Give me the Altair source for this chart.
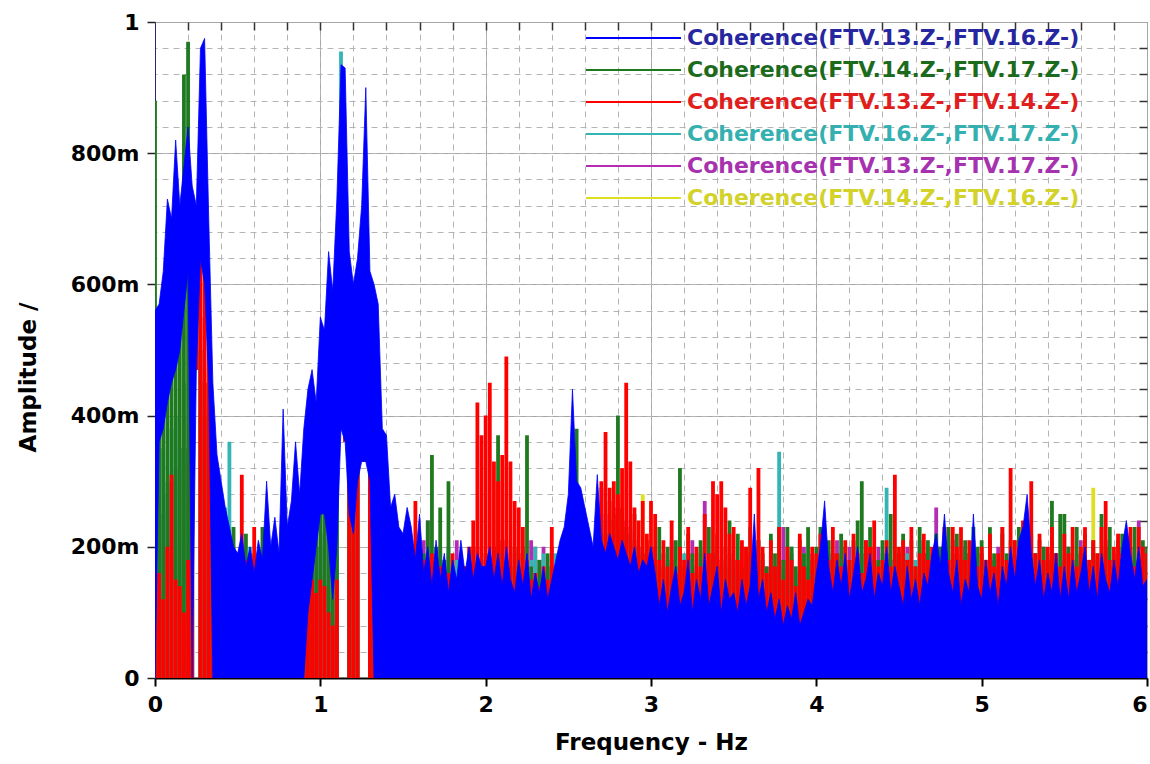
import altair as alt
import pandas as pd

# ---------------- data (coherence, thousandths), one value per 0.025 Hz bin, 0..6 Hz ----------------
FREQ_STEP = 0.025
N_BINS = 241

SERIES = [
    "Coherence(FTV.13.Z-,FTV.16.Z-)",
    "Coherence(FTV.14.Z-,FTV.17.Z-)",
    "Coherence(FTV.13.Z-,FTV.14.Z-)",
    "Coherence(FTV.16.Z-,FTV.17.Z-)",
    "Coherence(FTV.13.Z-,FTV.17.Z-)",
    "Coherence(FTV.14.Z-,FTV.16.Z-)",
]
LINE_COLORS = ["#0000ff", "#1f7a1f", "#ff0000", "#33b5b5", "#b42cb4", "#dede22"]
TEXT_COLORS = ["#2626a0", "#1c6b1c", "#e01e1e", "#35b0b0", "#a632b0", "#d2d22a"]

BLUE = [
    560, 570, 620, 730, 700, 820, 720, 780, 840, 750, 720, 960, 975, 700, 450, 340, 300, 260, 230, 200,
    190, 220, 170, 200, 160, 210, 180, 300, 200, 245, 190, 410, 230, 270, 360, 280, 380, 440, 470, 420,
    550, 530, 650, 590, 730, 935, 930, 650, 600, 640, 720, 900, 620, 600, 570, 380, 370, 260, 280, 230,
    220, 260, 230, 180, 250, 160, 200, 140, 210, 150, 190, 130, 180, 150, 210, 160, 200, 150, 190, 170,
    170, 200, 150, 190, 140, 200, 150, 130, 180, 140, 190, 120, 160, 130, 170, 120, 150, 180, 210, 230,
    280, 440, 300, 290, 260, 230, 200, 310, 210, 190, 220, 200, 180, 210, 190, 170, 200, 160, 180, 170,
    200, 160, 110, 150, 100, 140, 170, 110, 130, 180, 100, 150, 120, 190, 110, 140, 170, 100, 150, 120,
    130, 100, 150, 110, 140, 250, 120, 150, 100, 130, 90, 120, 80, 110, 90, 130, 80, 100, 120, 110,
    160, 200, 270, 170, 130, 180, 140, 190, 120, 160, 200, 130, 150, 190, 120, 160, 140, 200, 130, 170,
    140, 110, 170, 120, 150, 110, 160, 140, 190, 220, 170, 250, 160, 130, 180, 110, 150, 130, 250, 140,
    120, 180, 130, 160, 110, 170, 140, 200, 150, 210, 230, 280, 190, 140, 180, 120, 160, 130, 190, 120,
    170, 120, 180, 130, 160, 200, 130, 170, 120, 190, 150, 130, 180, 140, 200, 240, 190, 150, 200, 140,
    150,
]
GREEN = [
    880, 450, 500, 480, 550, 520, 600, 920, 970, 700, 650, 500, 450, 400, 300, 280, 250, 200, 190, 230,
    180, 160, 220, 150, 190, 170, 230, 160, 180, 200, 150, 210, 190, 170, 220, 250, 300, 280, 310, 290,
    280, 260, 220, 250, 400, 700, 650, 500, 480, 450, 420, 600, 450, 300, 200, 220, 180, 200, 160, 170,
    150, 180, 160, 200, 170, 190, 240, 340, 200, 260, 180, 300, 160, 150, 190, 170, 150, 200, 170, 160,
    190, 170, 200, 370, 210, 180, 170, 200, 190, 160, 370, 170, 150, 180, 160, 190, 170, 150, 180, 200,
    220, 240, 380, 260, 230, 200, 180, 210, 240, 220, 270, 250, 400, 260, 230, 220, 250, 200, 190, 210,
    200, 180, 230, 170, 200, 180, 210, 320, 170, 220, 190, 160, 210, 180, 230, 190, 220, 170, 200, 240,
    180, 220, 170, 200, 230, 180, 210, 190, 170, 220, 190, 230, 180, 230, 200, 170, 210, 190, 230, 180,
    200, 230, 170, 210, 190, 180, 220, 200, 170, 210, 240, 300, 190, 230, 200, 180, 210, 190, 250, 200,
    190, 220, 180, 210, 170, 230, 190, 210, 180, 220, 200, 170, 230, 190, 220, 180, 210, 190, 230, 200,
    210, 180, 230, 190, 170, 220, 190, 210, 180, 230, 200, 180, 220, 190, 210, 200, 180, 270, 190, 250,
    250, 200, 180, 230, 190, 220, 180, 210, 190, 250, 200, 230, 180, 210, 220, 190, 200, 230, 190, 210,
    200,
]
RED = [
    130, 160, 120, 200, 310, 150, 140, 100, 180, 300, 650, 850, 620, 520, 300, 200, 180, 220, 200, 160,
    150, 310, 180, 140, 230, 120, 160, 200, 130, 180, 150, 220, 140, 170, 120, 150, 100, 120, 150, 130,
    150, 140, 100, 80, 150, 600, 550, 600, 560, 520, 450, 700, 400, 150, 120, 200, 160, 140, 230, 180,
    170, 150, 200, 270, 160, 180, 140, 190, 150, 170, 130, 160, 190, 150, 140, 170, 200, 240, 420, 370,
    400, 450, 330, 300, 340, 490, 330, 270, 260, 230, 180, 150, 160, 140, 170, 150, 230, 160, 180, 200,
    170, 160, 190, 150, 170, 200, 180, 220, 300, 375, 290, 300, 280, 320, 450, 330, 260, 240, 270, 220,
    270, 250, 180, 210, 170, 240, 160, 200, 180, 230, 160, 200, 170, 250, 190, 300, 280, 300, 260, 220,
    230, 180, 210, 200, 290, 180, 320, 200, 160, 210, 170, 230, 150, 200, 180, 140, 220, 170, 150, 200,
    190, 220, 170, 180, 230, 190, 170, 210, 180, 220, 190, 160, 210, 200, 240, 170, 180, 210, 170, 310,
    200, 210, 180, 230, 170, 190, 220, 180, 200, 190, 160, 230, 180, 230, 200, 230, 180, 210, 190, 170,
    200, 180, 220, 170, 190, 230, 180, 320, 210, 200, 240, 180, 300, 190, 220, 180, 200, 230, 190, 170,
    220, 190, 230, 170, 200, 230, 180, 210, 190, 230, 270, 180, 200, 220, 190, 210, 230, 170, 230, 200,
    190,
]
CYAN = [
    300, 250, 350, 300, 380, 400, 350, 450, 240, 400, 600, 500, 400, 350, 300, 250, 200, 260, 360, 200,
    180, 150, 170, 200, 160, 140, 190, 170, 150, 180, 160, 140, 170, 190, 150, 180, 200, 170, 190, 160,
    200, 250, 300, 350, 450, 955, 700, 600, 550, 500, 450, 650, 450, 250, 200, 180, 230, 170, 150, 190,
    170, 200, 160, 190, 170, 150, 200, 170, 160, 190, 170, 200, 160, 180, 190, 160, 170, 200, 180, 170,
    180, 170, 200, 160, 190, 170, 160, 200, 170, 190, 160, 180, 200, 160, 190, 170, 160, 190, 170, 200,
    190, 200, 210, 170, 200, 190, 170, 210, 180, 200, 170, 190, 210, 190, 180, 170, 200, 190, 170, 190,
    160, 190, 170, 150, 180, 200, 160, 170, 190, 160, 180, 150, 200, 170, 160, 190, 170, 150, 180, 170,
    160, 180, 150, 170, 190, 160, 180, 170, 150, 190, 170, 345, 160, 180, 200, 170, 160, 190, 170, 160,
    170, 190, 160, 180, 170, 160, 190, 170, 180, 200, 160, 170, 190, 170, 180, 160, 190, 290, 170, 180,
    180, 160, 190, 170, 180, 200, 170, 160, 190, 170, 180, 230, 170, 190, 160, 180, 170, 190, 210, 170,
    180, 170, 190, 160, 180, 230, 170, 190, 160, 180, 200, 170, 160, 190, 180, 170, 190, 160, 180, 190,
    170, 190, 160, 180, 200, 170, 160, 190, 180, 170, 200, 160, 190, 170, 180, 190, 170, 160, 180, 190,
    170,
]
MAGENTA = [
    200, 220, 250, 280, 300, 320, 350, 400, 350, 500, 600, 550, 450, 420, 300, 250, 200, 180, 200, 170,
    160, 180, 150, 170, 140, 190, 160, 150, 180, 170, 140, 160, 150, 170, 180, 160, 150, 170, 160, 180,
    200, 220, 250, 300, 350, 500, 480, 450, 420, 400, 380, 450, 400, 250, 200, 180, 160, 170, 150, 160,
    170, 200, 160, 190, 170, 210, 240, 180, 170, 200, 160, 190, 170, 210, 180, 160, 190, 170, 200, 180,
    190, 170, 200, 180, 160, 210, 190, 170, 160, 200, 180, 210, 200, 180, 200, 170, 200, 180, 170, 200,
    160, 170, 180, 200, 170, 190, 160, 180, 290, 250, 240, 260, 220, 250, 240, 230, 210, 200, 190, 180,
    170, 200, 160, 190, 150, 210, 170, 200, 160, 180, 210, 170, 190, 270, 180, 160, 200, 180, 170, 190,
    180, 160, 200, 170, 190, 160, 210, 180, 170, 190, 160, 200, 230, 170, 190, 160, 180, 200, 170, 190,
    180, 200, 170, 190, 160, 210, 180, 170, 200, 180, 160, 190, 210, 170, 180, 200, 170, 190, 180, 170,
    190, 170, 200, 180, 160, 210, 190, 200, 170, 260, 200, 180, 170, 210, 190, 170, 200, 180, 210, 190,
    190, 170, 210, 180, 200, 170, 160, 190, 210, 180, 170, 200, 180, 190, 170, 200, 180, 210, 190, 170,
    180, 200, 170, 190, 210, 180, 170, 200, 180, 190, 210, 170, 190, 180, 200, 170, 190, 180, 240, 200,
    180,
]
YELLOW = [
    150, 180, 200, 190, 190, 200, 150, 170, 160, 300, 550, 400, 300, 250, 200, 160, 140, 150, 130, 140,
    130, 140, 120, 150, 130, 140, 120, 130, 150, 140, 120, 130, 140, 150, 130, 120, 140, 130, 150, 140,
    150, 160, 180, 200, 250, 450, 420, 400, 380, 360, 350, 400, 350, 200, 150, 140, 130, 150, 140, 130,
    160, 150, 180, 160, 150, 170, 160, 150, 180, 160, 150, 170, 180, 150, 160, 170, 150, 160, 180, 160,
    150, 170, 160, 150, 200, 160, 170, 150, 160, 150, 180, 160, 150, 170, 160, 150, 200, 160, 180, 150,
    160, 180, 150, 160, 180, 190, 160, 180, 190, 160, 180, 200, 190, 170, 190, 160, 180, 190, 280, 170,
    160, 150, 180, 140, 170, 150, 160, 180, 140, 170, 150, 190, 160, 150, 170, 140, 160, 180, 150, 170,
    150, 170, 140, 190, 160, 150, 170, 140, 160, 180, 150, 170, 140, 160, 190, 150, 170, 160, 140, 180,
    160, 140, 170, 160, 150, 180, 160, 140, 170, 150, 160, 180, 140, 170, 160, 150, 180, 160, 170, 150,
    160, 180, 150, 170, 160, 150, 180, 160, 170, 150, 180, 160, 150, 170, 160, 190, 160, 150, 170, 160,
    190, 160, 170, 150, 180, 160, 150, 170, 190, 160, 150, 170, 160, 180, 150, 170, 160, 150, 180, 160,
    170, 150, 160, 180, 150, 170, 160, 290, 150, 170, 160, 180, 150, 170, 160, 150, 180, 160, 170, 150,
    160,
]

# lower end of the blue trace where it stays high (coherent bands)
BLUE_FLOOR_F = [0.025, 0.05, 0.075, 0.1, 0.125, 0.15, 0.175, 0.2, 0.25, 0.275, 0.3, 0.325,
                0.925, 0.95, 0.975, 1.0, 1.025, 1.05, 1.075, 1.1, 1.125, 1.15, 1.175, 1.2,
                1.225, 1.25, 1.275, 1.3]
BLUE_FLOOR = [360, 380, 420, 450, 470, 500, 560, 620, 470, 640, 600, 450,
              100, 150, 200, 250, 250, 200, 120, 200, 380, 360, 250, 220,
              300, 330, 330, 300]
# bins where every trace stays above a floor (white gaps under the peaks)
COMMON_FLOOR_F = [0.25, 1.125, 1.15, 1.25, 1.275]
COMMON_FLOOR = [470, 380, 360, 330, 330]

TRACES = [BLUE, GREEN, RED, CYAN, MAGENTA, YELLOW]
DRAW_ORDER = [5, 4, 3, 1, 2, 0]  # yellow, magenta, cyan, green, red, blue on top

# ---------------- table ----------------
floor_common = {round(f / FREQ_STEP): v for f, v in zip(COMMON_FLOOR_F, COMMON_FLOOR)}
floor_blue = {round(f / FREQ_STEP): v for f, v in zip(BLUE_FLOOR_F, BLUE_FLOOR)}

frames = {}
for k, (name, arr) in enumerate(zip(SERIES, TRACES)):
    assert len(arr) == N_BINS, (name, len(arr))
    rows = []
    for i, hi in enumerate(arr):
        lo = floor_common.get(i, 0)
        if k == 0:
            lo = max(lo, floor_blue.get(i, 0))
        rows.append({"series": name, "f": i * FREQ_STEP, "lo": lo / 1000.0, "hi": hi / 1000.0})
    frames[k] = pd.DataFrame(rows)

# ---------------- chart ----------------
FONT = "DejaVu Sans"
W, H = 992, 656
xscale = alt.Scale(domain=[0, 6], nice=False, zero=False)
yscale = alt.Scale(domain=[0, 1], nice=False, zero=False)
cscale = alt.Scale(domain=SERIES, range=LINE_COLORS)

MAJOR_X = [0, 1, 2, 3, 4, 5, 6]
MINOR_X = [round(0.2 * k, 1) for k in range(1, 30)]
MAJOR_Y = [0, 0.2, 0.4, 0.6, 0.8, 1.0]
MINOR_Y = [round(0.04 * k, 2) for k in range(1, 25)]

x_bottom = alt.X("f:Q", scale=xscale, axis=alt.Axis(
    orient="bottom", values=MAJOR_X, format="d", title="Frequency - Hz",
    labelFont=FONT, labelFontSize=22, labelFontWeight="bold", labelColor="black",
    labelPadding=8, tickSize=8, tickWidth=2, tickColor="black",
    labelAlign={"condition": {"test": "datum.value >= 6", "value": "right"}, "value": "center"},
    domainColor="black", domainWidth=2,
    grid=True, gridColor="#a6a6a6", gridWidth=1,
    titleFont=FONT, titleFontSize=23, titleFontWeight="bold", titleColor="black", titlePadding=16,
))
y_left = alt.Y("lo:Q", scale=yscale, axis=alt.Axis(
    orient="left", values=MAJOR_Y, title="Amplitude /",
    labelExpr="datum.value == 0 ? '0' : (datum.value >= 0.999 ? '1' : round(datum.value * 1000) + 'm')",
    labelFont=FONT, labelFontSize=22, labelFontWeight="bold", labelColor="black",
    labelPadding=8, tickSize=8, tickWidth=1.5, tickColor="#222222",
    domainColor="#2a2a70", domainWidth=1,
    grid=True, gridColor="#a6a6a6", gridWidth=1,
    titleFont=FONT, titleFontSize=23, titleFontWeight="bold", titleColor="black",
    titlePadding=30, titleY=355,
))
x_top = alt.X("f:Q", scale=xscale, axis=alt.Axis(
    orient="top", values=MINOR_X, labels=False, title=None, domain=False,
    tickSize=8, tickWidth=1.5, tickColor="#333333", offset=-8,
    grid=True, gridColor="#b4b4b4", gridWidth=1, gridDash=[6, 5],
))
y_right = alt.Y("lo:Q", scale=yscale, axis=alt.Axis(
    orient="right", values=MINOR_Y, labels=False, title=None, domain=False,
    tickSize=8, tickWidth=1.5, tickColor="#333333", offset=-8,
    grid=True, gridColor="#b4b4b4", gridWidth=1, gridDash=[6, 5],
))

layers = []
for n, k in enumerate(DRAW_ORDER):
    if n == 0:
        xx, yy = x_bottom, y_left
    elif n == len(DRAW_ORDER) - 1:
        xx, yy = x_top, y_right
    else:
        xx = alt.X("f:Q", scale=xscale, axis=None)
        yy = alt.Y("lo:Q", scale=yscale, axis=None)
    enc = dict(x=xx, y=yy, y2=alt.Y2("hi:Q"),
               color=alt.Color("series:N", scale=cscale, legend=None))
    if k == 0:
        mark = alt.Chart(frames[k]).mark_area(interpolate="linear", clip=True, opacity=1,
                                              stroke=LINE_COLORS[k], strokeWidth=0.8)
    else:
        mark = alt.Chart(frames[k]).mark_rule(strokeWidth=3.8, clip=True)
    layers.append(mark.encode(**enc))
data_layer = alt.layer(*layers)

LEGEND_ROW = list(range(len(SERIES)))
leg_df = pd.DataFrame({"series": SERIES, "row": LEGEND_ROW})
leg_y = alt.Y("row:Q", scale=alt.Scale(domain=[0, 5], range=[16, 176], nice=False, zero=False), axis=None)
leg_rule = alt.Chart(leg_df).mark_rule(strokeWidth=2).encode(
    x=alt.value(431), x2=alt.value(526), y=leg_y,
    color=alt.Color("series:N", scale=cscale, legend=None),
)
leg_text = alt.Chart(leg_df).mark_text(
    align="left", baseline="middle", font=FONT, fontSize=22, fontWeight="bold"
).encode(
    x=alt.value(532), y=leg_y, text="series:N",
    fill=alt.Fill("series:N", scale=alt.Scale(domain=SERIES, range=TEXT_COLORS), legend=None),
)
legend_layer = alt.layer(leg_rule, leg_text)

chart = alt.layer(data_layer, legend_layer).resolve_scale(y="independent").properties(
    width=W, height=H, autosize="none",
    padding={"left": 155, "top": 22, "right": 3, "bottom": 86},
    background="white",
).configure_view(stroke="#6a6a6a", strokeWidth=1)

chart.save("out.html", embed_options={"renderer": "svg", "actions": False})
